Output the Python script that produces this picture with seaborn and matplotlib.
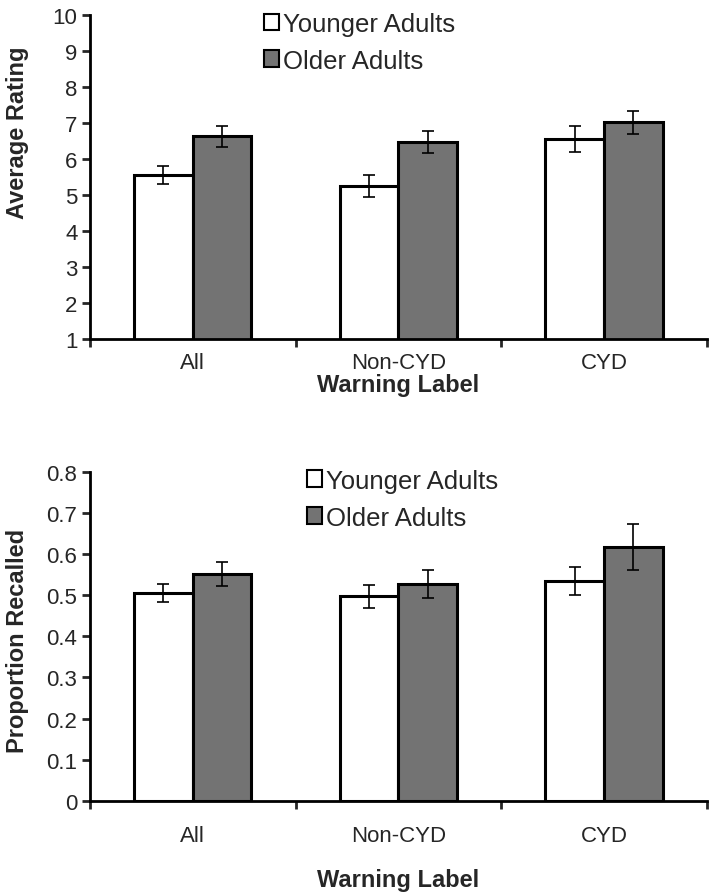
import matplotlib
matplotlib.use("Agg")
import matplotlib.pyplot as plt
from matplotlib.patches import Patch
import seaborn as sns
import pandas as pd

labels = ["All", "Non-CYD", "CYD"]
groups = ["Younger Adults", "Older Adults"]

rating_young = [5.56, 5.26, 6.56]
rating_old = [6.64, 6.48, 7.02]
rating_young_err = [0.26, 0.30, 0.36]
rating_old_err = [0.29, 0.30, 0.32]

recall_young = [0.505, 0.497, 0.534]
recall_old = [0.551, 0.527, 0.617]
recall_young_err = [0.022, 0.028, 0.035]
recall_old_err = [0.030, 0.035, 0.055]

colors = {"Younger Adults": "white", "Older Adults": "#737373"}

sns.set_theme(style="white")
plt.rcParams["font.family"] = ["Liberation Sans", "DejaVu Sans"]


def make_df(young, old, yerr, oerr):
    return pd.DataFrame({
        "label": labels * 2,
        "group": [groups[0]] * 3 + [groups[1]] * 3,
        "value": young + old,
        "err": yerr + oerr,
    })


def draw(ax, df, ymin, ymax, step, ylabel, fmt, leg_x, leg_y, xpad, label_y):
    sns.barplot(data=df, x="label", y="value", hue="group", hue_order=groups,
                palette=colors, order=labels, width=0.57, errorbar=None,
                edgecolor="black", linewidth=2.2, legend=False, ax=ax)
    # error bars at bar centres, same order seaborn draws them
    bars = [p for p in ax.patches if p.get_height() > 0]
    xs = [b.get_x() + b.get_width() / 2 for b in bars]
    tops = [b.get_y() + b.get_height() for b in bars]
    ax.errorbar(xs, tops, yerr=df["err"].tolist(), fmt="none", ecolor="black",
                elinewidth=1.2, capsize=4, capthick=1.2)

    ax.set_ylim(ymin, ymax)
    ticks = [ymin + i * step for i in range(int(round((ymax - ymin) / step)) + 1)]
    ax.set_yticks(ticks)
    ax.set_yticklabels([fmt(t) for t in ticks])
    ax.set_xlim(-0.5, 2.5)
    ax.set_xticks([0, 1, 2])
    ax.set_xticks([-0.5, 0.5, 1.5, 2.5], minor=True)
    ax.tick_params(axis="x", which="major", length=0, labelsize=16, pad=xpad)
    ax.tick_params(axis="x", which="minor", length=6, width=2, direction="out", bottom=True)
    ax.tick_params(axis="y", length=6, width=2, direction="out", left=True, labelsize=16, pad=3)

    for s in ["top", "right"]:
        ax.spines[s].set_visible(False)
    for s in ["left", "bottom"]:
        ax.spines[s].set_color("black")
        ax.spines[s].set_linewidth(2)

    ax.set_xlabel("Warning Label", fontsize=17, fontweight="bold")
    ax.set_ylabel(ylabel, fontsize=17, fontweight="bold")
    ax.yaxis.set_label_coords(-0.099, label_y)

    handles = [Patch(facecolor=colors[g], edgecolor="black", linewidth=1.5, label=g) for g in groups]
    ax.legend(handles=handles, loc="upper left", bbox_to_anchor=(leg_x, leg_y),
              frameon=False, fontsize=18.5, handlelength=0.6, handleheight=0.6,
              handletextpad=0.15, labelspacing=0.5, borderaxespad=0)


fig = plt.figure(figsize=(7.14, 8.95), dpi=100)
ax1 = fig.add_axes([0.126, 0.620, 0.864, 0.362])
ax2 = fig.add_axes([0.126, 0.104, 0.864, 0.368])

draw(ax1, make_df(rating_young, rating_old, rating_young_err, rating_old_err),
     1, 10, 1, "Average Rating", lambda t: f"{t:.0f}", 0.265, 1.042, 9, 0.64)
draw(ax2, make_df(recall_young, recall_old, recall_young_err, recall_old_err),
     0, 0.8, 0.1, "Proportion Recalled", lambda t: "0" if t == 0 else f"{t:.1f}",
     0.335, 1.04, 17, 0.49)
ax1.xaxis.labelpad = 0
ax2.xaxis.labelpad = 16

fig.savefig("out.png", dpi=100)
plt.close(fig)
